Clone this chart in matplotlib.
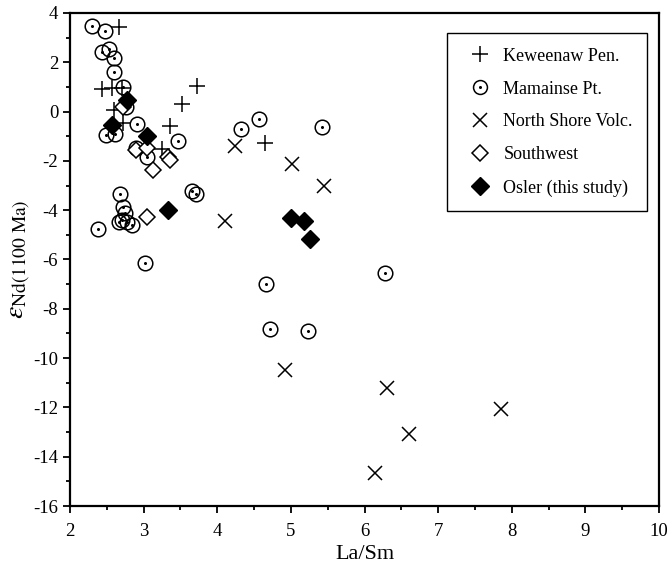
import numpy as np
import matplotlib
matplotlib.use("Agg")
import matplotlib.pyplot as plt
from matplotlib.ticker import MultipleLocator

plt.rcParams["font.family"] = ["Liberation Serif", "DejaVu Serif"]
plt.rcParams["mathtext.fontset"] = "stix"
plt.rcParams["axes.unicode_minus"] = False

# ---- data (La/Sm, eps Nd) ----
kew_x = [2.67, 2.43, 2.57, 2.70, 3.72, 3.52, 2.60, 2.72, 3.36, 3.25, 4.65]
kew_y = [3.42, 0.93, 0.95, 0.95, 1.04, 0.30, 0.05, -0.45, -0.58, -1.50, -1.29]

mam_x = [2.30, 2.48, 2.44, 2.53, 2.60, 2.60, 2.72, 2.76, 2.49, 2.61, 2.91,
         3.47, 3.04, 2.90, 2.68, 2.72, 2.75, 2.66, 2.70, 2.77, 2.84, 2.38,
         3.02, 3.65, 3.71, 4.32, 4.56, 5.42, 6.28, 4.66, 4.72, 5.23]
mam_y = [3.48, 3.26, 2.40, 2.53, 2.19, 1.62, 0.98, 0.17, -0.95, -0.92, -0.50,
         -1.20, -1.84, -1.49, -3.36, -3.87, -4.13, -4.47, -4.40, -4.47, -4.60, -4.77,
         -6.16, -3.22, -3.35, -0.72, -0.31, -0.64, -6.53, -6.99, -8.81, -8.90]

nsv_x = [4.24, 5.01, 5.45, 4.10, 4.92, 6.31, 7.85, 6.60, 6.14]
nsv_y = [-1.40, -2.13, -3.02, -4.44, -10.48, -11.23, -12.06, -13.09, -14.65]

sw_x = [2.72, 2.90, 3.04, 3.33, 3.36, 3.13, 3.04]
sw_y = [0.20, -1.56, -1.49, -1.83, -1.96, -2.37, -4.28]

osl_x = [2.78, 2.57, 3.05, 3.33, 5.00, 5.18, 5.26]
osl_y = [0.45, -0.54, -0.98, -4.00, -4.30, -4.43, -5.18]

fig = plt.figure(figsize=(6.72, 5.69), dpi=100)
ax = fig.add_axes([0.1042, 0.1107, 0.8765, 0.8665])

ax.plot(kew_x, kew_y, ls="none", marker="+", ms=12, mew=1.1, color="black")
ax.plot(mam_x, mam_y, ls="none", marker="o", ms=10.5, mew=1.1, mfc="none", mec="black")
ax.plot(mam_x, mam_y, ls="none", marker="o", ms=2.2, mew=0, color="black")
ax.plot(nsv_x, nsv_y, ls="none", marker="x", ms=10, mew=1.1, color="black")
ax.plot(sw_x, sw_y, ls="none", marker="D", ms=8.5, mew=1.1, mfc="white", mec="black")
ax.plot(osl_x, osl_y, ls="none", marker="D", ms=9, mew=1.0, color="black")

# legend proxies
h_kew, = ax.plot([], [], ls="none", marker="+", ms=12, mew=1.1, color="black")
h_mam_o, = ax.plot([], [], ls="none", marker="o", ms=10, mew=1.1, mfc="none", mec="black")
h_mam_d, = ax.plot([], [], ls="none", marker="o", ms=2.2, mew=0, color="black")
h_nsv, = ax.plot([], [], ls="none", marker="x", ms=10, mew=1.1, color="black")
h_sw, = ax.plot([], [], ls="none", marker="D", ms=8.5, mew=1.1, mfc="white", mec="black")
h_osl, = ax.plot([], [], ls="none", marker="D", ms=9, mew=1.0, color="black")

leg = ax.legend([h_kew, (h_mam_o, h_mam_d), h_nsv, h_sw, h_osl],
                ["Keweenaw Pen.", "Mamainse Pt.", "North Shore Volc.", "Southwest", "Osler (this study)"],
                loc="upper right", bbox_to_anchor=(0.98, 0.959), fontsize=13,
                labelspacing=0.88, handletextpad=0.3, borderpad=0.8,
                fancybox=False, framealpha=1, edgecolor="black", borderaxespad=0)
leg.get_frame().set_linewidth(1.0)

ax.set_xlim(2, 10)
ax.set_ylim(-16, 4)
ax.xaxis.set_major_locator(MultipleLocator(1))
ax.xaxis.set_minor_locator(MultipleLocator(0.5))
ax.yaxis.set_major_locator(MultipleLocator(2))
ax.yaxis.set_minor_locator(MultipleLocator(1))
ax.tick_params(which="both", direction="out", top=False, right=False, width=1.3, labelsize=13.5)
ax.tick_params(which="major", length=5)
ax.tick_params(which="minor", length=3)
ax.tick_params(axis="x", pad=7)
for s in ax.spines.values():
    s.set_linewidth(1.6)

ax.set_xlabel("La/Sm", fontsize=16, labelpad=4)
ax.set_ylabel(r"$\varepsilon_{\mathrm{Nd(1100\ Ma)}}$", fontsize=20, labelpad=0)

fig.savefig("out.png", dpi=100)
